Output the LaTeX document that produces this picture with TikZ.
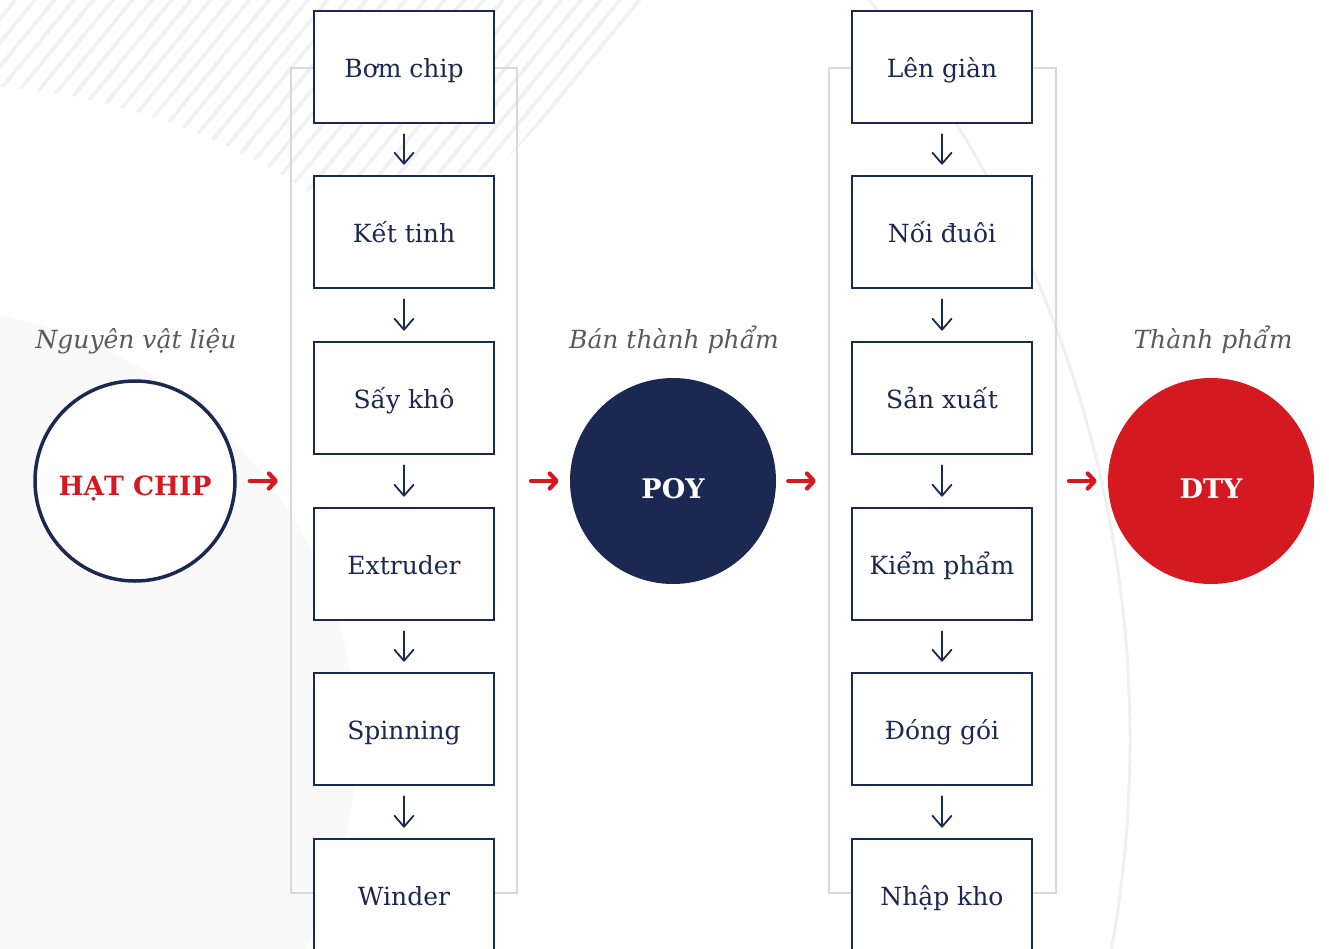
\documentclass[tikz,border=0pt]{standalone}
\usepackage{fontspec}
\setmainfont{DejaVu Serif}
\usetikzlibrary{arrows.meta}
\definecolor{navy}{HTML}{1B2852}
\definecolor{brand}{HTML}{D51920}
\definecolor{bggray}{HTML}{F9F9F9}
\definecolor{stripec}{HTML}{EFF1F4}
\definecolor{arcc}{HTML}{EEF0F2}
\definecolor{brk}{HTML}{D9D9D9}
\definecolor{lbl}{HTML}{5A5A5A}
\tikzset{
  stepbox/.style={draw=navy, line width=2.7pt, fill=white, minimum width=180pt, minimum height=112pt, inner sep=0pt, text=navy, text height=20pt, text depth=0pt, font=\fontsize{25}{28}\selectfont},
  ringnode/.style={circle, draw=navy, line width=3.5pt, fill=white, minimum size=200pt, inner sep=0pt, text=brand, text height=28pt, text depth=0pt, font=\bfseries\fontsize{26.5}{30}\selectfont},
  solidnode/.style={circle, minimum size=206pt, inner sep=0pt, text=white, text height=34pt, text depth=0pt, font=\bfseries\fontsize{27}{30}\selectfont},
  caption/.style={anchor=base, text=lbl, inner sep=0pt, font=\itshape\fontsize{25}{28}\selectfont},
  downarr/.style={draw=navy, line width=1.8pt, line cap=round, -{Straight Barb[length=11pt,width=19pt,round]}, shorten <=10pt, shorten >=10pt},
  redarr/.style={draw=brand, line width=4.2pt, line cap=round, -{Straight Barb[length=7pt,width=15pt,round]}},
  bracket/.style={draw=brk, line width=2.8pt},
  stripe/.style={draw=stripec, line width=3.6pt},
}
\begin{document}
\begin{tikzpicture}[x=1pt,y=-1pt]
\useasboundingbox (0,0) rectangle (1329,948);
\fill[white] (0,0) rectangle (1329,948);
% background decoration
\begin{scope}
  \clip (0,0) rectangle (1329,948);
  \fill[bggray] (-80,744) circle[radius=436pt];
  \draw[arcc, line width=3pt] (-50,740) circle[radius=1180pt];
  \begin{scope}
    \clip (0,0) -- (655,0) -- (495,172) -- (330,176) -- (310,196) -- (310,300) -- (0,300) -- cycle;
    \begin{scope}[even odd rule]
      \clip (-10,-10) rectangle (700,320) (-50,740) circle[radius=655pt];
      \foreach \i in {-2,...,38} {
        \draw[stripe] ({\i*19.5},-5) -- ++(-210,256);
      }
    \end{scope}
  \end{scope}
\end{scope}
% brackets
\draw[bracket] (291,68) rectangle (517,893);
\draw[bracket] (829,68) rectangle (1056,893);
\coordinate (lbrL) at (291,481);
\coordinate (lbrR) at (517,481);
\coordinate (rbrL) at (829,481);
\coordinate (rbrR) at (1056,481);
% left column
\node[stepbox] (b1) at (404,67) {Bơm chip};
\node[stepbox] (b2) at (404,232) {Kết tinh};
\node[stepbox] (b3) at (404,398) {Sấy khô};
\node[stepbox] (b4) at (404,564) {Extruder};
\node[stepbox] (b5) at (404,729) {Spinning};
\node[stepbox] (b6) at (404,895) {Winder};
% right column
\node[stepbox] (c1) at (942,67) {Lên giàn};
\node[stepbox] (c2) at (942,232) {Nối đuôi};
\node[stepbox] (c3) at (942,398) {Sản xuất};
\node[stepbox] (c4) at (942,564) {Kiểm phẩm};
\node[stepbox] (c5) at (942,729) {Đóng gói};
\node[stepbox] (c6) at (942,895) {Nhập kho};
\foreach \a/\b in {b1/b2,b2/b3,b3/b4,b4/b5,b5/b6,c1/c2,c2/c3,c3/c4,c4/c5,c5/c6} {
  \draw[downarr] (\a.south) -- (\b.north);
}
% circles
\node[ringnode] (hat) at (135,481) {HẠT CHIP};
\node[solidnode, fill=navy] (poy) at (673,481) {POY};
\node[solidnode, fill=brand] (dty) at (1211,481) {DTY};
% captions
\node[caption] (cap1) at (136,348) {Nguyên vật liệu};
\node[caption] (cap2) at (674,348) {Bán thành phẩm};
\node[caption] (cap3) at (1213,348) {Thành phẩm};
% red arrows
\draw[redarr, shorten <=13pt, shorten >=13pt] (hat.east) -- (lbrL);
\draw[redarr, shorten <=14pt, shorten >=11pt] (lbrR) -- (poy.west);
\draw[redarr, shorten <=12pt, shorten >=13pt] (poy.east) -- (rbrL);
\draw[redarr, shorten <=13pt, shorten >=11pt] (rbrR) -- (dty.west);
\end{tikzpicture}
\end{document}
